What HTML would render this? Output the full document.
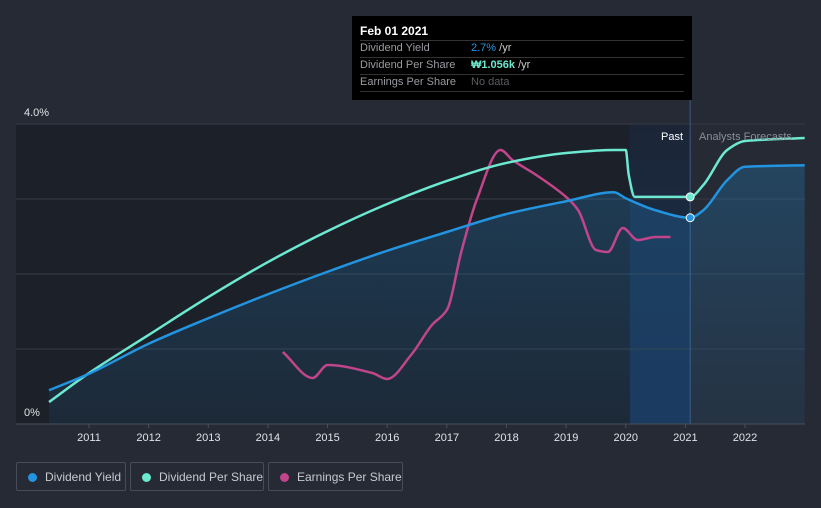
<!DOCTYPE html>
<html><head><meta charset="utf-8"><style>
body{margin:0;background:#252a35;font-family:"Liberation Sans",sans-serif;}
svg{display:block}
.leg{position:absolute;top:462px;height:29px;border:1px solid #474c58;border-radius:2px;color:#c8cad0;font-size:12px;line-height:29px;box-sizing:border-box;padding-left:28px;white-space:nowrap}
.leg span{position:absolute;left:11px;top:10px;width:9px;height:9px;border-radius:50%}
</style></head><body>
<div style="position:relative;width:821px;height:508px;overflow:hidden">
<svg id="c" width="821" height="508"></svg>
<div class="leg" style="left:16px;width:110px"><span style="background:#2394df"></span>Dividend Yield</div>
<div class="leg" style="left:130px;width:134px"><span style="background:#6ce9d0"></span>Dividend Per Share</div>
<div class="leg" style="left:268px;width:135px"><span style="background:#c0458a"></span>Earnings Per Share</div>
<div style="position:absolute;left:352px;top:16px;width:340px;height:84px;background:#000">
<div style="position:absolute;left:8px;top:8px;color:#fff;font-weight:bold;font-size:12px">Feb 01 2021</div>
<div style="position:absolute;left:8px;right:8px;top:24px;border-top:1px solid #333"></div>
<div style="position:absolute;left:8px;top:26px;color:#9a9ca3;font-size:11px">Dividend Yield</div>
<div style="position:absolute;left:119px;top:26px;font-size:11px;color:#ccc"><b style="color:#2394df;font-weight:normal">2.7%</b> /yr</div>
<div style="position:absolute;left:8px;right:8px;top:41px;border-top:1px solid #333"></div>
<div style="position:absolute;left:8px;top:43px;color:#9a9ca3;font-size:11px">Dividend Per Share</div>
<div style="position:absolute;left:119px;top:43px;font-size:11px;color:#ccc"><b style="color:#6ce9d0">₩1.056k</b> /yr</div>
<div style="position:absolute;left:8px;right:8px;top:58px;border-top:1px solid #333"></div>
<div style="position:absolute;left:8px;top:60px;color:#9a9ca3;font-size:11px">Earnings Per Share</div>
<div style="position:absolute;left:119px;top:60px;font-size:11px;color:#5a5c62">No data</div>
<div style="position:absolute;left:8px;right:8px;top:75px;border-top:1px solid #333"></div>
</div>
</div>
<script>
const yieldX=[2010.33,2011,2012,2013,2014,2015,2016,2017,2018,2019,2019.8,2020,2020.5,2021.08,2021.3,2021.7,2022,2023];
const yieldV=[0.45,0.67,1.07,1.41,1.73,2.03,2.31,2.56,2.8,2.97,3.09,3.01,2.85,2.75,2.85,3.25,3.43,3.45];
const dpsX=[2010.33,2011,2012,2013,2014,2015,2016,2017,2018,2019,2019.8,2020,2020.05,2020.15,2021.08,2021.3,2021.7,2022,2023];
const dpsV=[102,237,414,590,753,897,1023,1130,1214,1260,1274,1274,1158,1056,1056,1111,1274,1316,1330];
const epsX=[2014.25,2014.75,2015,2015.75,2016,2016.4,2016.75,2017,2017.25,2017.5,2017.9,2018.1,2018.5,2019,2019.2,2019.5,2019.7,2019.95,2020.2,2020.5,2020.75];
const epsV=[720,460,590,510,450,690,990,1140,1740,2240,2740,2640,2490,2270,2140,1740,1720,1960,1840,1870,1870];
const years=[2011,2012,2013,2014,2015,2016,2017,2018,2019,2020,2021,2022];
const NS="http://www.w3.org/2000/svg",svg=document.getElementById('c');
const X=t=>89+(t-2011)*59.64, Y=v=>424-v*75, YD=v=>424-v/4.65, YE=v=>424-v/10;
function el(tag,a,p){const e=document.createElementNS(NS,tag);for(const k in a)e.setAttribute(k,a[k]);(p||svg).appendChild(e);return e;}
function smooth(pts){const n=pts.length,d=[],m=[];for(let i=0;i<n-1;i++)d.push((pts[i+1][1]-pts[i][1])/(pts[i+1][0]-pts[i][0]));
m[0]=d[0];m[n-1]=d[n-2];for(let i=1;i<n-1;i++){m[i]=(d[i-1]*d[i]<=0)?0:2/(1/d[i-1]+1/d[i]);}
let s='M'+pts[0][0]+','+pts[0][1];for(let i=0;i<n-1;i++){const h=(pts[i+1][0]-pts[i][0])/3;s+=`C${pts[i][0]+h},${pts[i][1]+m[i]*h} ${pts[i+1][0]-h},${pts[i+1][1]-m[i+1]*h} ${pts[i+1][0]},${pts[i+1][1]}`;}return s;}
const defs=el('defs',{});
const g=el('linearGradient',{id:'band',x1:0,y1:0,x2:0,y2:1},defs);
el('stop',{offset:0,'stop-color':'#1b2536'},g);el('stop',{offset:1,'stop-color':'#1a3355'},g);
const ga=el('linearGradient',{id:'area',x1:0,y1:0,x2:0,y2:1},defs);
el('stop',{offset:0,'stop-color':'#2394df','stop-opacity':0.25},ga);el('stop',{offset:1,'stop-color':'#2394df','stop-opacity':0.08},ga);
let r=el('rect',{x:16,y:124,width:X(2020.07)-16,height:300,fill:'#1c2029'});

r=el('rect',{x:X(2020.07),y:124,width:X(2021.08)-X(2020.07),height:300,fill:'url(#band)'});

[1,2,3,4].forEach(v=>{const l=el('line',{x1:16,x2:805,y1:Y(v),y2:Y(v),stroke:'#363b46','stroke-width':1});});
el('line',{x1:X(2021.08),x2:X(2021.08),y1:100,y2:424,stroke:'#3d5a80','stroke-width':1});
const yp=yieldX.map((t,i)=>[X(t),Y(yieldV[i])]);
let a=el('path',{d:smooth(yp)+`L${X(2023)},424L${X(2010.33)},424Z`,fill:'url(#area)'});

const ax=el('line',{x1:16,x2:805,y1:424,y2:424,stroke:'#4a4f5a'});
let p=el('path',{d:smooth(epsX.map((t,i)=>[X(t),YE(epsV[i])])),fill:'none',stroke:'#c0458a','stroke-width':2.5});

p=el('path',{d:smooth(dpsX.map((t,i)=>[X(t),YD(dpsV[i])])),fill:'none',stroke:'#6ce9d0','stroke-width':2.5});

p=el('path',{d:smooth(yp),fill:'none',stroke:'#2394df','stroke-width':2.5});

let m=el('circle',{cx:X(2021.08),cy:YD(1056),r:4,fill:'#6ce9d0',stroke:'#fff','stroke-width':1});

m=el('circle',{cx:X(2021.08),cy:Y(2.75),r:4,fill:'#2394df',stroke:'#fff','stroke-width':1});

years.forEach(yr=>{const t=el('text',{x:X(yr),y:441,fill:'#e0e2e6','font-size':11,'text-anchor':'middle'});t.textContent=yr;
el('line',{x1:X(yr),x2:X(yr),y1:424,y2:428,stroke:'#4a4f5a'});});
let t=el('text',{x:24,y:116,fill:'#e0e2e6','font-size':11});t.textContent='4.0%';
t=el('text',{x:24,y:416,fill:'#e0e2e6','font-size':11});t.textContent='0%';
t=el('text',{x:683,y:140,fill:'#fff','font-size':11,'text-anchor':'end'});t.textContent='Past';
t=el('text',{x:699,y:140,fill:'#8a8d95','font-size':11});t.textContent='Analysts Forecasts';
</script>
</body></html>
